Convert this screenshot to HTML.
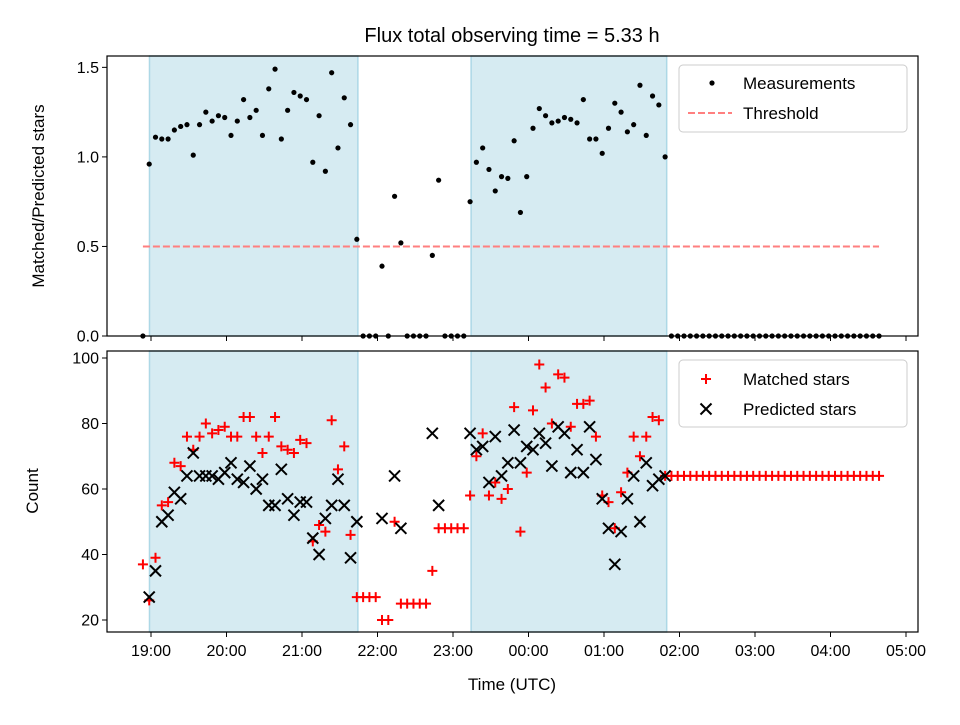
<!DOCTYPE html>
<html><head><meta charset="utf-8">
<style>
html,body{margin:0;padding:0;background:#fff;}
svg text{font-family:"Liberation Sans","DejaVu Sans",sans-serif;fill:#000;}
</style></head>
<body>
<svg id="chart" width="960" height="720" viewBox="0 0 960 720" xmlns="http://www.w3.org/2000/svg">
<rect x="0" y="0" width="960" height="720" fill="#fff"/>
<text x="512" y="42" font-size="20" text-anchor="middle">Flux total observing time = 5.33 h</text>
<g id="top"></g>
<g id="bot"></g>
<text transform="translate(44,196) rotate(-90)" font-size="17" text-anchor="middle">Matched/Predicted stars</text>
<text transform="translate(38,491) rotate(-90)" font-size="17" text-anchor="middle">Count</text>
<text x="512" y="690" font-size="17" text-anchor="middle">Time (UTC)</text>
</svg>
<script>
const startHour = 18.893;
const stepMinutes = 5;
const ratio = [0,.96,1.11,1.10,1.10,1.15,1.17,1.18,1.01,1.18,1.25,1.20,1.23,1.22,1.12,1.20,1.32,1.22,1.26,1.12,1.38,1.49,1.10,1.26,1.36,1.34,1.32,.97,1.23,.92,1.47,1.05,1.33,1.18,.54,
0,0,0,.39,0,.78,.52,0,0,0,0,.45,.87,0,0,0,0,
.75,.97,1.05,.93,.81,.89,.88,1.09,.69,.89,1.16,1.27,1.23,1.19,1.20,1.22,1.21,1.19,1.32,1.10,1.10,1.02,1.16,1.30,1.25,1.14,1.18,1.40,1.12,1.34,1.29,1.00,
0,0,0,0,0,0,0,0,0,0,0,0,0,0,0,0,0,0,0,0,0,0,0,0,0,0,0,0,0,0,0,0,0,0];
const matched = [37,26,39,55,56,68,67,76,72,76,80,77,78,79,76,76,82,82,76,71,76,82,73,72,71,75,74,44,49,47,81,66,73,46,27,27,27,27,
20,20,50,25,25,25,25,25,35,48,48,48,48,48,
58,70,77,58,62,57,60,85,47,65,84,98,91,80,95,94,79,86,86,87,76,58,56,48,59,65,76,70,76,82,81,64,
64,64,64,64,64,64,64,64,64,64,64,64,64,64,64,64,64,64,64,64,64,64,64,64,64,64,64,64,64,64,64,64,64,64];
const predicted = [null,27,35,50,52,59,57,64,71,64,64,64,63,65,68,63,62,67,60,63,55,55,66,57,52,56,56,45,40,51,55,63,55,39,50,null,null,null,
51,null,64,48,null,null,null,null,77,55,null,null,null,null,
77,72,73,62,76,64,68,78,68,73,72,77,74,67,79,77,65,72,65,79,69,57,48,37,47,57,64,50,68,61,63,64];
const threshold = 0.5;
const observingSpans = [[18.98,21.74],[23.24,25.83]];
const xTickHours = [19,20,21,22,23,24,25,26,27,28,29];
const xTickLabels = ["19:00","20:00","21:00","22:00","23:00","00:00","01:00","02:00","03:00","04:00","05:00"];
const topYTicks = [0,0.5,1.0,1.5];
const topYLabels = ["0.0","0.5","1.0","1.5"];
const botYTicks = [20,40,60,80,100];
const botYLabels = ["20","40","60","80","100"];

const NS="http://www.w3.org/2000/svg";
const L=107,R=918;
const X=h=>151+(h-19)*75.5;
const TY=v=>336-v*179.1;
const BY=v=>620-(v-20)*3.275;
function mk(tag,attrs,parent){const e=document.createElementNS(NS,tag);for(const k in attrs)e.setAttribute(k,attrs[k]);parent.appendChild(e);return e;}
const times = ratio.map((_,i)=>startHour+i*stepMinutes/60);

function axes(g,top,bottom,yTicks,yLabels,Y,showX,pfx){
  observingSpans.forEach((s,k)=>{
    const r=mk('rect',{x:X(s[0]),y:top,width:X(s[1])-X(s[0]),height:bottom-top,fill:'#add8e6','fill-opacity':0.5,stroke:'#add8e6','stroke-width':1.5},g);
    
    
  });
  yTicks.forEach((v,k)=>{
    const y=Y(v);
    const t=mk('line',{x1:L-5,x2:L,y1:y,y2:y,stroke:'#000','stroke-width':1},g);
    
    
    const tx=mk('text',{x:L-8,y:y+5.5,'font-size':16,'text-anchor':'end'},g);
    tx.textContent=yLabels[k];
    
    
  });
  xTickHours.forEach((h,k)=>{
    const x=X(h);
    const t=mk('line',{x1:x,x2:x,y1:bottom,y2:bottom+5,stroke:'#000','stroke-width':1},g);
    
    
    if(showX){
      const tx=mk('text',{x:x,y:bottom+24,'font-size':16,'text-anchor':'middle'},g);
      tx.textContent=xTickLabels[k];
      
      
    }
  });
}
function frame(g,top,bottom,pfx){
  const f=mk('rect',{x:L,y:top,width:R-L,height:bottom-top,fill:'none',stroke:'#000','stroke-width':1.2},g);
  
  
}
const gt=document.getElementById('top');
axes(gt,56,336,topYTicks,topYLabels,TY,false,'top');
const th=mk('line',{x1:X(times[0]),x2:X(times[times.length-1]),y1:TY(threshold),y2:TY(threshold),stroke:'#ff7f7f','stroke-width':2,'stroke-dasharray':'7,3'},gt);


ratio.forEach((v,i)=>{
  const c=mk('circle',{cx:X(times[i]),cy:TY(v),r:2.6,fill:'#000'},gt);
  
  
});
frame(gt,56,336,'top');
const lg1=mk('g',{},gt);


mk('rect',{x:679,y:65,width:228,height:67,rx:4,fill:'#fff','fill-opacity':0.8,stroke:'#ccc'},lg1);
mk('circle',{cx:712,cy:83,r:2.6,fill:'#000'},lg1);
let t1=mk('text',{x:743,y:89,'font-size':17},lg1);t1.textContent='Measurements';
mk('line',{x1:688,x2:732,y1:113,y2:113,stroke:'#ff7f7f','stroke-width':2,'stroke-dasharray':'7,3'},lg1);
let t2=mk('text',{x:743,y:119,'font-size':17},lg1);t2.textContent='Threshold';

const gb=document.getElementById('bot');
axes(gb,351,632,botYTicks,botYLabels,BY,true,'bottom');
function plus(g,x,y){const p=mk('path',{d:`M${x-5},${y}H${x+5}M${x},${y-5}V${y+5}`,stroke:'#f00','stroke-width':2,fill:'none'},g);return p;}
function cross(g,x,y){const p=mk('path',{d:`M${x-5.5},${y-5.5}L${x+5.5},${y+5.5}M${x-5.5},${y+5.5}L${x+5.5},${y-5.5}`,stroke:'#000','stroke-width':2,fill:'none'},g);return p;}
matched.forEach((v,i)=>{
  if(v==null)return;
  const p=plus(gb,X(times[i]),BY(v));
  
  
});
predicted.forEach((v,i)=>{
  if(v==null)return;
  const p=cross(gb,X(times[i]),BY(v));
  
  
});
frame(gb,351,632,'bottom');
const lg2=mk('g',{},gb);


mk('rect',{x:679,y:360,width:228,height:67,rx:4,fill:'#fff','fill-opacity':0.8,stroke:'#ccc'},lg2);
plus(lg2,706,379);
let t3=mk('text',{x:743,y:385,'font-size':17},lg2);t3.textContent='Matched stars';
cross(lg2,706,409);
let t4=mk('text',{x:743,y:415,'font-size':17},lg2);t4.textContent='Predicted stars';
</script>
</body></html>
